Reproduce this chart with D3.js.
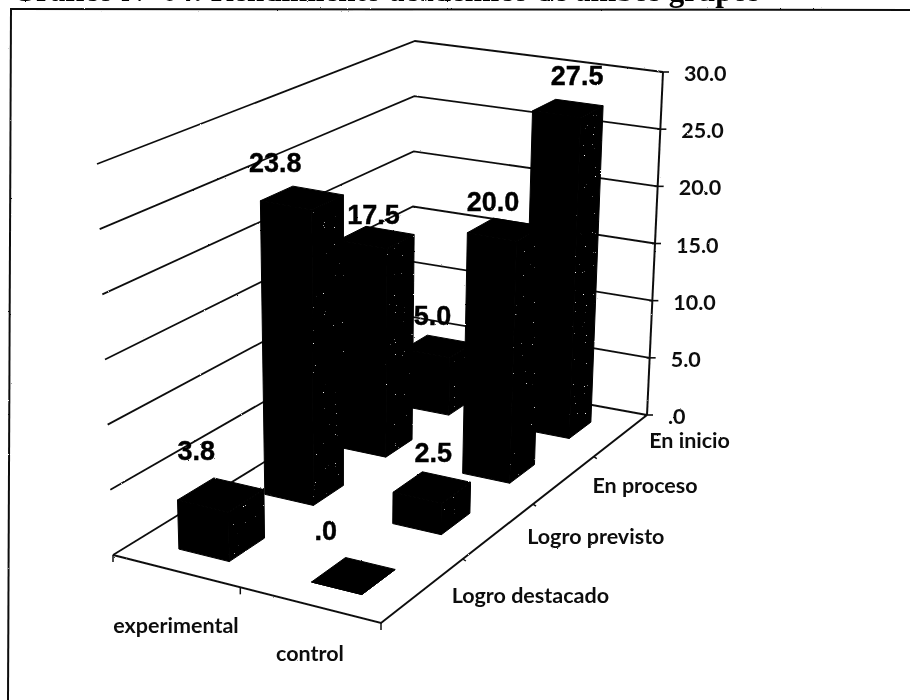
<!DOCTYPE html>
<html>
<head>
<meta charset="utf-8">
<script src="https://cdnjs.cloudflare.com/ajax/libs/d3/7.8.5/d3.min.js"></script>
<style>
  html, body { margin: 0; padding: 0; background: #fff; overflow: hidden; }
  svg { display: block; }
</style>
</head>
<body>
<svg id="chart"></svg>
<script>
let svgWidth = 910, svgHeight = 700

// data
const groups = ['experimental', 'control']
const levels = ['Logro destacado', 'Logro previsto', 'En proceso', 'En inicio']
const experimental = [3.8, 23.8, 17.5, 5.0]
const control = [0, 2.5, 20.0, 27.5]
const axisTicks = [0, 5, 10, 15, 20, 25, 30]

let svg = d3.select('#chart').attr('width', svgWidth).attr('height', svgHeight)

// corners of the 3d box on the page: floor, then ceiling
const floorBox = { fl: [113, 555], fr: [381, 623], bl: [411, 372], br: [647, 415] }
const roofBox = { fl: [97, 164], fr: [388, 220], bl: [415, 41], br: [663, 72] }
const depthSquash = 0.75

let xScale = d3.scaleBand().domain(groups).range([-0.004, 0.996]).paddingInner(0.62).paddingOuter(0.31)
let depthScale = d3.scaleBand().domain(levels).range([-0.008, 0.985]).paddingInner(0.6).paddingOuter(0.3)
let zScale = d3.scaleLinear().domain([0, 30]).range([0, 1])

const lerp = (a, b, t) => [a[0] + (b[0] - a[0]) * t, a[1] + (b[1] - a[1]) * t]
const squash = v => v / (v + (1 - v) * depthSquash)

function project(u, v, w) {
  let t = squash(v)
  let low = lerp(lerp(floorBox.fl, floorBox.fr, u), lerp(floorBox.bl, floorBox.br, u), t)
  let high = lerp(lerp(roofBox.fl, roofBox.fr, u), lerp(roofBox.bl, roofBox.br, u), t)
  return lerp(low, high, w)
}

const line = d3.line()

let defs = svg.append('defs')

// scan roughness
let rough = defs.append('filter').attr('id', 'rough').attr('x', '-2%').attr('y', '-2%').attr('width', '104%').attr('height', '104%')
rough.append('feTurbulence').attr('type', 'fractalNoise').attr('baseFrequency', 0.7).attr('numOctaves', 2).attr('seed', 4).attr('result', 'noise')
rough.append('feDisplacementMap').attr('in', 'SourceGraphic').attr('in2', 'noise').attr('scale', 1.6)

// light specks on the side faces of the bars
let speck = defs.append('filter').attr('id', 'speck').attr('x', 0).attr('y', 0).attr('width', 1).attr('height', 1)
speck.append('feTurbulence').attr('type', 'fractalNoise').attr('baseFrequency', 0.9).attr('numOctaves', 1).attr('seed', 9).attr('result', 'noise')
speck.append('feColorMatrix').attr('in', 'noise').attr('type', 'matrix')
  .attr('values', '0 0 0 0 1  0 0 0 0 1  0 0 0 0 1  14 0 0 0 -10.3').attr('result', 'dots')
speck.append('feComposite').attr('in', 'dots').attr('in2', 'SourceAlpha').attr('operator', 'in').attr('result', 'clipped')
let speckMerge = speck.append('feMerge')
speckMerge.append('feMergeNode').attr('in', 'SourceGraphic')
speckMerge.append('feMergeNode').attr('in', 'clipped')

let g = svg.append('g').attr('filter', 'url(#rough)')

// title, cut by the top of the page
g.append('text').attr('x', 12).attr('y', 1)
  .attr('font-family', 'Liberation Serif').attr('font-weight', 'bold').attr('font-size', 31)
  .text('Gráfico Nº 04: Rendimiento académico de ambos grupos')

// frame
g.append('path').attr('d', line([[10, 9], [910, 10]])).attr('stroke', '#111').attr('stroke-width', 2).attr('fill', 'none')
g.append('path').attr('d', line([[11, 9], [8, 700]])).attr('stroke', '#111').attr('stroke-width', 2).attr('fill', 'none')

// walls
g.selectAll('.grid').data(axisTicks).enter().append('path')
  .attr('class', 'grid')
  .attr('d', d => line([project(0, 0, zScale(d)), project(0, 1, zScale(d)), project(1, 1, zScale(d))]))
  .attr('fill', 'none').attr('stroke', '#111').attr('stroke-width', 1.8)

// floor edges
g.append('path').attr('d', line([project(0, 0, 0), project(1, 0, 0), project(1, 1, 0)]))
  .attr('fill', 'none').attr('stroke', '#111').attr('stroke-width', 2)
// value axis
g.append('path').attr('d', line([project(1, 1, 0), project(1, 1, 1)]))
  .attr('fill', 'none').attr('stroke', '#111').attr('stroke-width', 2)

g.selectAll('.ytick').data(axisTicks).enter().append('path')
  .attr('class', 'ytick')
  .attr('d', d => { let p = project(1, 1, zScale(d)); return line([[p[0] - 3, p[1]], [p[0] + 6, p[1]]]) })
  .attr('stroke', '#111').attr('stroke-width', 1.6)

g.selectAll('.xtick').data([0, 0.475, 1]).enter().append('path')
  .attr('class', 'xtick')
  .attr('d', d => { let p = project(d, 0, 0); return line([p, [p[0], p[1] + 7]]) })
  .attr('stroke', '#111').attr('stroke-width', 1.5)

g.selectAll('.dtick').data([0.25, 0.5, 0.75]).enter().append('path')
  .attr('class', 'dtick')
  .attr('d', d => { let p = project(1, d, 0); return line([p, [p[0] + 3, p[1] + 2]]) })
  .attr('stroke', '#111').attr('stroke-width', 1.5)

// bars, back row first so the front ones sit on top
let cells = []
levels.forEach((level, i) => {
  cells.push({ group: groups[0], level, value: experimental[i], nudge: nudgeFor(0, i) })
  cells.push({ group: groups[1], level, value: control[i], nudge: nudgeFor(1, i) })
})
cells.reverse()

// hand placed value labels, they do not sit at a fixed offset in the original
function nudgeFor(g, i) {
  const nudges = [
    [[-25, -35], [-27, -26], [-3, -13], [-6, -21]],
    [[-28, -36], [1, -25], [-12, -18], [9, -23]]
  ]
  return nudges[g][i]
}

function barFaces(d) {
  let u0 = xScale(d.group), u1 = u0 + xScale.bandwidth()
  let v0 = depthScale(d.level), v1 = v0 + depthScale.bandwidth()
  let w = zScale(d.value)
  return [
    { side: false, pts: [project(u0, v0, 0), project(u1, v0, 0), project(u1, v0, w), project(u0, v0, w)] },
    { side: true, pts: [project(u1, v0, 0), project(u1, v1, 0), project(u1, v1, w), project(u1, v0, w)] },
    { side: false, pts: [project(u0, v0, w), project(u1, v0, w), project(u1, v1, w), project(u0, v1, w)] }
  ]
}

let bars = g.selectAll('.bar').data(cells).enter().append('g').attr('class', 'bar')
bars.selectAll('path').data(barFaces).enter().append('path')
  .attr('d', d => line(d.pts) + 'Z')
  .attr('fill', '#000').attr('stroke', '#000').attr('stroke-width', 1)
  .attr('filter', d => d.side ? 'url(#speck)' : null)

// labels
const labelFont = 'Lato, Carlito, sans-serif'
const labelSize = 21.5
g.selectAll('.ylabel').data(axisTicks).enter().append('text')
  .attr('class', 'ylabel')
  .attr('x', d => project(1, 1, zScale(d))[0] + 21)
  .attr('y', d => project(1, 1, zScale(d))[1] + 9)
  .attr('font-family', labelFont).attr('font-size', labelSize).attr('font-weight', 'bold').attr('fill', '#111')
  .text(d => d === 0 ? '.0' : d.toFixed(1))

svg.append('g').attr('filter', 'url(#rough)').selectAll('text').data(cells).enter().append('text')
  .attr('x', d => project(xScale(d.group) + xScale.bandwidth() / 2, depthScale(d.level) + depthScale.bandwidth() / 2, zScale(d.value))[0] + d.nudge[0])
  .attr('y', d => project(xScale(d.group) + xScale.bandwidth() / 2, depthScale(d.level) + depthScale.bandwidth() / 2, zScale(d.value))[1] + d.nudge[1])
  .attr('text-anchor', 'middle')
  .attr('font-family', 'Liberation Sans').attr('font-weight', 'bold').attr('font-size', 27).attr('fill', '#000')
  .attr('stroke', '#000').attr('stroke-width', 0.4)
  .text(d => d.value === 0 ? '.0' : d.value.toFixed(1))

g.selectAll('.xlabel').data(groups).enter().append('text')
  .attr('class', 'xlabel')
  .attr('x', d => project(xScale(d) + xScale.bandwidth() / 2, 0, 0)[0] - 3)
  .attr('y', (d, i) => project(xScale(d) + xScale.bandwidth() / 2, 0, 0)[1] + 61 - i * 6)
  .attr('text-anchor', 'middle')
  .attr('font-family', labelFont).attr('font-size', labelSize).attr('font-weight', 'bold').attr('fill', '#111')
  .text(d => d)

g.selectAll('.dlabel').data(levels).enter().append('text')
  .attr('class', 'dlabel')
  .attr('x', d => project(1, depthScale(d) + depthScale.bandwidth() / 2, 0)[0] + 31)
  .attr('y', d => project(1, depthScale(d) + depthScale.bandwidth() / 2, 0)[1] + 11)
  .attr('font-family', labelFont).attr('font-size', labelSize).attr('font-weight', 'bold').attr('fill', '#111')
  .text(d => d)
</script>
</body>
</html>
